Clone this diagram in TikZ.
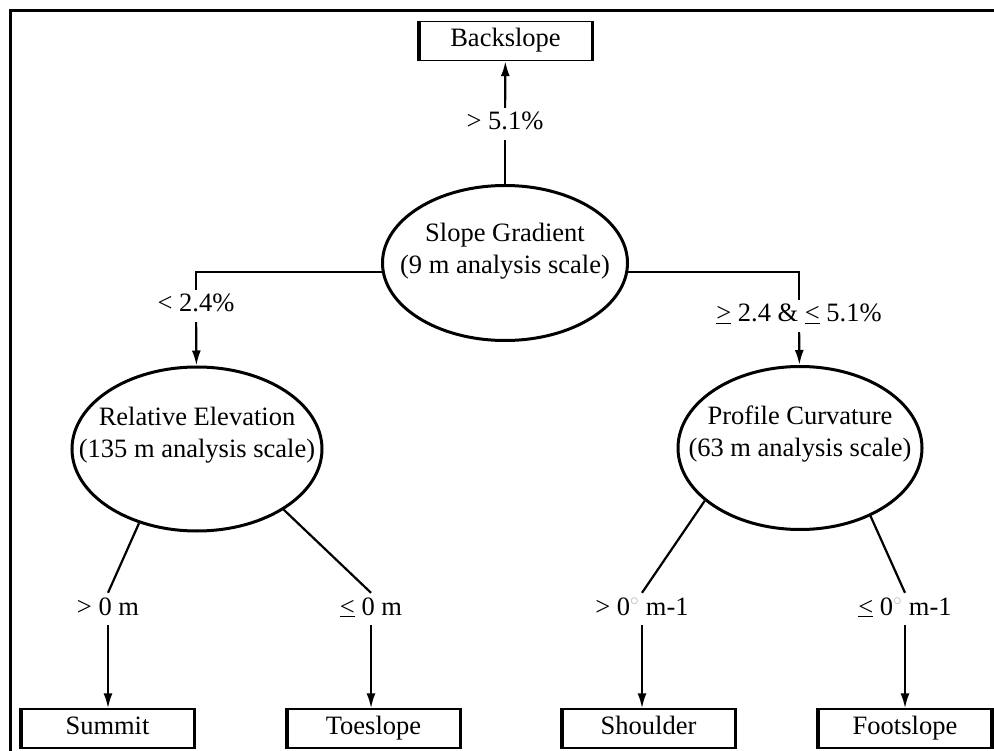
\documentclass[tikz,border=0pt]{standalone}
\usepackage{fontspec}
\setmainfont{Liberation Serif}
\usetikzlibrary{arrows.meta,shapes.geometric}

\begin{document}
\begin{tikzpicture}[x=1pt, y=-1pt,
  font=\fontsize{26.5}{32}\selectfont,
  decision/.style={draw, ellipse, line width=3pt, inner sep=0pt},
  leaf/.style={draw, line width=1.3pt, minimum width=176pt, minimum height=39pt, inner sep=0pt,
    text height=18pt, text depth=6pt,
    path picture={\draw[line width=6pt] (path picture bounding box.north west) -- (path picture bounding box.south west)
      (path picture bounding box.north east) -- (path picture bounding box.south east);}},
  rule/.style={inner sep=0pt, minimum height=32pt, text height=18pt, text depth=6pt},
  branch/.style={line width=2.2pt},
  arr/.style={line width=2.2pt, -{Latex[length=15pt,width=9pt]}}]

\useasboundingbox (0,0) rectangle (994,751);

\draw[line width=3pt] (10,751) -- (10,11) -- (994,11);

% decision nodes
\node[decision, minimum width=245pt, minimum height=155pt] (slope) at (505,263) {};
\node[align=center] (slopetxt) at (505,251) {Slope Gradient\\(9 m analysis scale)};

\node[decision, minimum width=250pt, minimum height=164pt] (elev) at (197,449) {};
\node[align=center] (elevtxt) at (197,435) {Relative Elevation\\(135 m analysis scale)};

\node[decision, minimum width=244pt, minimum height=163pt] (curv) at (800,448) {};
\node[align=center] (curvtxt) at (800,434) {Profile Curvature\\(63 m analysis scale)};

% landform classes
\node[leaf] (back) at (505.5,41) {Backslope};
\node[leaf] (summit) at (107.5,728.5) {Summit};
\node[leaf] (toe) at (373.5,728.5) {Toeslope};
\node[leaf] (shoulder) at (648.5,728.5) {Shoulder};
\node[leaf] (foot) at (905,728.5) {Footslope};

% thresholds
\node[rule] (gtfive) at (505,124) {> 5.1\%};
\node[rule] (lttwo) at (196,306) {< 2.4\%};
\node[rule] (between) at (799,316) {\underline{>} 2.4 \& \underline{<} 5.1\%};
\node[rule] (gtzero) at (108,609) {> 0 m};
\node[rule] (lezero) at (371,609) {\underline{<} 0 m};
\node[rule] (gtcurv) at (642,609) {> 0\textcolor{gray!60}{$^\circ$} m-1};
\node[rule] (lecurv) at (905,609) {\underline{<} 0\textcolor{gray!60}{$^\circ$} m-1};

\draw[branch] (slope.north) -- (gtfive);
\draw[arr] (gtfive) -- (back);

\draw[branch] (slope.184) -| (lttwo);
\draw[arr] (lttwo) -- (elev);

\draw[branch] (slope.356) -| (between);
\draw[arr] (between) -- (curv);

\draw[branch] (elev.232) -- (gtzero.north);
\draw[arr] (gtzero.south) -- (gtzero.south |- summit.north);
\draw[branch] (elev.325) -- (lezero.north);
\draw[arr] (lezero.south) -- (lezero.south |- toe.north);

\draw[branch] (curv.209) -- (gtcurv.north);
\draw[arr] (gtcurv.south) -- (gtcurv.south |- shoulder.north);
\draw[branch] (curv.316) -- (lecurv.north);
\draw[arr] (lecurv.south) -- (lecurv.south |- foot.north);

\end{tikzpicture}
\end{document}
